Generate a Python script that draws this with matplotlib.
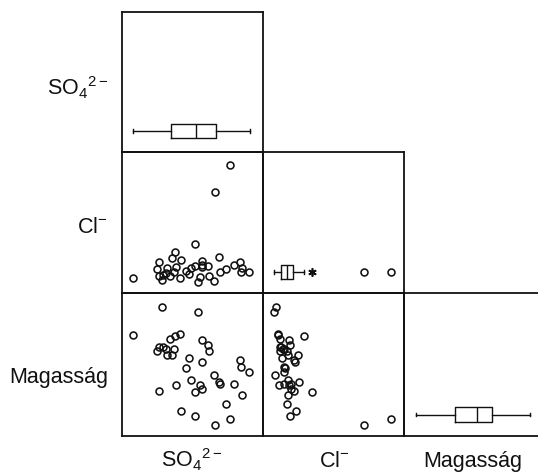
import matplotlib
matplotlib.use("Agg")
import matplotlib.pyplot as plt

plt.rcParams['font.family'] = ['Liberation Sans', 'DejaVu Sans']
plt.rcParams['mathtext.fontset'] = 'custom'
plt.rcParams['mathtext.rm'] = 'Liberation Sans'
plt.rcParams['mathtext.it'] = 'Liberation Sans'
plt.rcParams['mathtext.default'] = 'regular'

# Variable names
var_labels = [r'SO$_4$$^{2-}$', r'Cl$^{-}$', 'Magasság']

# Observations (relative units, 0-100 of each variable's plotted range)
so4 = [28.2, 54.1, 7.6, 41.1, 37.6, 34.0, 26.0, 29.3, 31.0, 37.1, 24.6, 31.7, 35.2,
       56.7, 61.2, 61.7, 47.7, 56.7, 45.4, 83.7, 84.6, 90.3, 65.0, 48.9, 68.8, 69.7,
       79.4, 38.3, 55.1, 56.7, 51.6, 26.2, 85.3, 73.8, 41.6, 51.6, 76.4, 66.2]
cl = [9.2, 7.8, 10.9, 10.4, 29.1, 12.3, 12.1, 12.8, 14.2, 14.7, 17.2, 17.7, 24.8,
      18.2, 19.4, 12.1, 13.7, 22.7, 15.8, 22.2, 14.9, 15.1, 8.3, 17.5, 25.3, 14.7,
      19.9, 18.4, 11.3, 19.9, 34.8, 22.2, 17.5, 16.8, 23.6, 18.9, 90.8, 71.6]
magassag = [90.4, 86.5, 70.4, 71.1, 69.7, 67.8, 62.4, 62.0, 61.0, 60.8, 59.7, 56.6, 56.9,
            66.9, 63.6, 59.2, 54.5, 51.5, 47.6, 53.4, 48.0, 45.0, 42.4, 39.2, 37.8, 36.6,
            36.6, 35.9, 35.5, 32.9, 30.6, 31.7, 28.5, 22.2, 17.7, 14.2, 11.7, 7.9]

# Box-plot statistics: [whisker low, Q1, median, Q3, whisker high]
so4_box = [7.6, 34.8, 52.3, 66.5, 90.8]
cl_box = [7.8, 12.6, 17.2, 21.5, 29.3]
magassag_box = [8.3, 36.2, 52.0, 62.4, 89.4]
cl_extremes = [35.0]          # drawn as *
cl_outliers = [71.6, 90.8]    # drawn as o

W, H = 538, 473
fig = plt.figure(figsize=(W / 100, H / 100), dpi=100)

col_px = [(122, 263), (263, 404), (404, 545)]
row_px = [(12, 152), (152, 293), (293, 436)]


def make_ax(r, c):
    x0, x1 = col_px[c]
    y0, y1 = row_px[r]
    ax = fig.add_axes([x0 / W, 1 - y1 / H, (x1 - x0) / W, (y1 - y0) / H])
    ax.set_xlim(0, 100)
    ax.set_ylim(0, 100)
    ax.set_xticks([])
    ax.set_yticks([])
    for s in ax.spines.values():
        s.set_linewidth(1.3)
        s.set_color('#111111')
    ax.patch.set_alpha(0)
    return ax


data = [so4, cl, magassag]
boxes = [so4_box, cl_box, magassag_box]

mk = dict(marker='o', linestyle='none', markersize=5.0, markerfacecolor='none',
          markeredgecolor='#111111', markeredgewidth=1.15)

for r in range(3):
    for c in range(r + 1):
        ax = make_ax(r, c)
        if r == c:
            stats = boxes[r]
            st = [dict(whislo=stats[0], q1=stats[1], med=stats[2], q3=stats[3],
                       whishi=stats[4], fliers=[])]
            ax.bxp(st, positions=[15], widths=10, vert=False, showfliers=False,
                   boxprops=dict(color='#111111', linewidth=1.0),
                   medianprops=dict(color='#111111', linewidth=1.0),
                   whiskerprops=dict(color='#111111', linewidth=1.0),
                   capprops=dict(color='#111111', linewidth=1.0),
                   capwidths=2.5, manage_ticks=False)
            if r == 1:
                ax.plot(cl_extremes, [15] * len(cl_extremes), linestyle='none',
                        marker=(6, 2, 0), markersize=6, markeredgewidth=1.2,
                        color='#111111')
                ax.plot(cl_outliers, [15] * len(cl_outliers), **mk)
            ax.set_xlim(0, 100)
            ax.set_ylim(0, 100)
        else:
            ax.plot(data[c], data[r], **mk)
        if c == 2:
            ax.spines['right'].set_visible(False)

fs = 15.5
# Column labels
col_centers = [192, 334, 473]
for lab, xc in zip(var_labels, col_centers):
    fig.text(xc / W, 1 - 467 / H, lab, ha='center', va='baseline', fontsize=fs, color='#111111')
# Row labels
row_centers = [88, 227, 378]
for lab, yc in zip(var_labels, row_centers):
    fig.text(108 / W, 1 - yc / H, lab, ha='right', va='center', fontsize=fs, color='#111111')

fig.savefig('out.png', dpi=100, facecolor='white')
